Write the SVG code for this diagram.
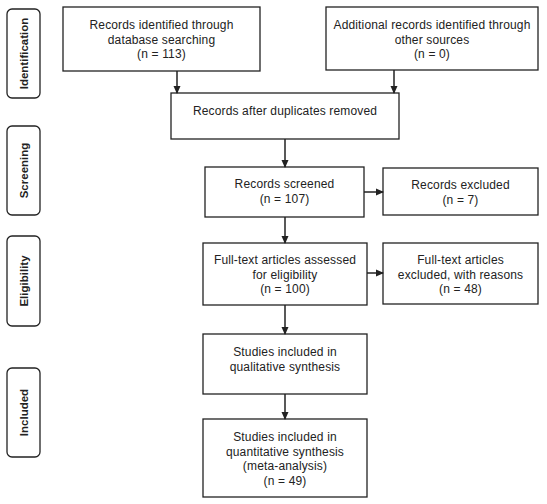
<svg xmlns="http://www.w3.org/2000/svg" width="547" height="504" viewBox="0 0 547 504">
<defs>
<marker id="ah" markerWidth="8" markerHeight="8" refX="7" refY="4" orient="auto" markerUnits="userSpaceOnUse">
<path d="M0,0.5 L8,4 L0,7.5 Z" fill="#222"/>
</marker>
<style>
.box{fill:#fff;stroke:#222;stroke-width:1.3}
.lab{fill:#fff;stroke:#222;stroke-width:1.3}
text{font-family:"Liberation Sans",Arial,sans-serif;font-size:12px;letter-spacing:0.15px;fill:#222;text-anchor:middle}
.side{font-weight:bold;font-size:11.5px;letter-spacing:0}
.con{stroke:#222;stroke-width:1.5;fill:none;marker-end:url(#ah)}
</style>
</defs>
<rect width="547" height="504" fill="#fff"/>
<g id="lab-identification"><rect class="lab" x="7" y="9" width="33" height="89" rx="5"/><text class="side" transform="translate(28,53.5) rotate(-90)">Identification</text></g>
<g id="lab-screening"><rect class="lab" x="7" y="126" width="33" height="89" rx="5"/><text class="side" transform="translate(28,170.5) rotate(-90)">Screening</text></g>
<g id="lab-eligibility"><rect class="lab" x="7" y="236" width="33" height="90" rx="5"/><text class="side" transform="translate(28,281) rotate(-90)">Eligibility</text></g>
<g id="lab-included"><rect class="lab" x="7" y="368" width="33" height="89" rx="5"/><text class="side" transform="translate(28,412.5) rotate(-90)">Included</text></g>

<g id="n-database"><rect class="box" x="63" y="7" width="197" height="64"/>
<text x="161.5" y="29">Records identified through</text><text x="161.5" y="43.5">database searching</text><text x="161.5" y="58">(n = 113)</text></g>
<g id="n-other"><rect class="box" x="326" y="7" width="212" height="63"/>
<text x="432" y="29">Additional records identified through</text><text x="432" y="43.5">other sources</text><text x="432" y="58">(n = 0)</text></g>
<g id="n-dup"><rect class="box" x="171" y="93" width="228" height="46"/>
<text x="285" y="115">Records after duplicates removed</text></g>
<g id="n-screened"><rect class="box" x="205" y="167" width="159" height="50"/>
<text x="284.5" y="188">Records screened</text><text x="284.5" y="202.5">(n = 107)</text></g>
<g id="n-excluded"><rect class="box" x="383" y="168" width="155" height="47"/>
<text x="460.5" y="189">Records excluded</text><text x="460.5" y="204">(n = 7)</text></g>
<g id="n-fulltext"><rect class="box" x="203" y="243" width="164" height="62"/>
<text x="285" y="264">Full-text articles assessed</text><text x="285" y="278.5">for eligibility</text><text x="285" y="293">(n = 100)</text></g>
<g id="n-ftexcluded"><rect class="box" x="383" y="243" width="155" height="61"/>
<text x="460.5" y="264">Full-text articles</text><text x="460.5" y="278.5">excluded, with reasons</text><text x="460.5" y="293">(n = 48)</text></g>
<g id="n-qual"><rect class="box" x="203" y="334" width="164" height="60"/>
<text x="285" y="356">Studies included in</text><text x="285" y="370.5">qualitative synthesis</text></g>
<g id="n-quant"><rect class="box" x="203" y="419" width="164" height="78"/>
<text x="285" y="441">Studies included in</text><text x="285" y="455.5">quantitative synthesis</text><text x="285" y="470">(meta-analysis)</text><text x="285" y="484.5">(n = 49)</text></g>

<g id="connectors">
<line class="con" x1="177" y1="71" x2="177" y2="93"/>
<line class="con" x1="394" y1="70" x2="394" y2="93"/>
<line class="con" x1="285" y1="139" x2="285" y2="167"/>
<line class="con" x1="364" y1="192" x2="383" y2="192"/>
<line class="con" x1="285" y1="217" x2="285" y2="243"/>
<line class="con" x1="367" y1="273" x2="383" y2="273"/>
<line class="con" x1="285" y1="305" x2="285" y2="334"/>
<line class="con" x1="285" y1="394" x2="285" y2="419"/>
</g>
</svg>
